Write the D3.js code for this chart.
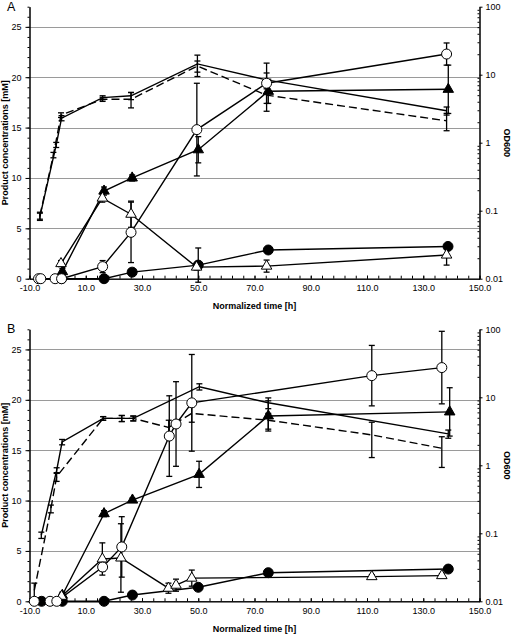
<!DOCTYPE html>
<html><head><meta charset="utf-8">
<script src="https://cdn.jsdelivr.net/npm/d3@7"></script>
<style>
body{margin:0;background:#fff}
svg{display:block}
text{font-family:"Liberation Sans",Arial,sans-serif;fill:#000}
</style>
</head><body>
<svg id="chart" width="511" height="634"></svg>
<script>
// ---------- Tick labels ----------
const xTickValues = [-10, 10, 30, 50, 70, 90, 110, 130, 150];
const xTickLabels = ["-10.0", "10.0", "30.0", "50.0", "70.0", "90.0", "110.0", "130.0", "150.0"];
const yLeftTickValues = [0, 5, 10, 15, 20, 25];
const yLeftTickLabels = ["0", "5", "10", "15", "20", "25"];
const yRightTickValues = [0.01, 0.1, 1, 10, 100];
const yRightTickLabels = ["0.01", "0.1", "1", "10", "100"];
const gridValues = [5, 10, 15, 20, 25];

// ---------- Panel A data ----------
// OD600 (right axis, log)
const aOdSolidTime = [-6.3, -0.5, 1.4, 16.0, 26.1, 49.7, 74.3, 138.3];
const aOdSolid     = [0.082, 0.93, 2.3, 4.6, 4.9, 14.4, 8.4, 2.95];
const aOdSolidErr  = [0.01, 0.08, 0.2, 0.3, 0.6, 5.0, 2.2, 0.4];
const aOdDashTime  = [-6.3, -1.5, 1.2, 16.0, 26.1, 49.7, 74.3, 138.3];
const aOdDash      = [0.085, 0.66, 2.55, 4.35, 4.35, 13.4, 5.0, 2.1];
const aOdDashErr   = [0.01, 0.06, 0.2, 0.3, 1.1, 2.5, 2.1, 0.6];
// Products (left axis, mM)
const aOpenCircleTime = [-6.8, -6.0, -0.9, 1.4, 16.0, 26.1, 49.5, 74.3, 138.3];
const aOpenCircle     = [0, 0, 0, 0, 1.2, 4.6, 14.8, 19.4, 22.3];
const aOpenCircleErr  = [0, 0, 0, 0, 0.6, 3.0, 4.6, 2.0, 1.1];
const aFilledTriTime  = [1.7, 16.5, 26.5, 50.0, 74.9, 138.9];
const aFilledTri      = [0.7, 8.7, 10.0, 12.8, 18.6, 18.8];
const aFilledTriErr   = [0.3, 0.4, 0.3, 1.3, 1.2, 2.4];
const aOpenTriTime    = [1.2, 15.9, 26.1, 49.4, 74.3, 138.3];
const aOpenTri        = [1.5, 8.0, 6.4, 1.15, 1.25, 2.35];
const aOpenTriErr     = [0.3, 0.4, 1.3, 0.3, 0.6, 1.0];
const aFilledCircleTime = [1.4, 16.5, 26.5, 50.0, 74.9, 138.8];
const aFilledCircle     = [0, 0, 0.65, 1.35, 2.85, 3.2];
const aFilledCircleErr  = [0, 0, 0.1, 1.7, 0.2, 0.2];

// ---------- Panel B data ----------
const bOdSolidTime = [-5.8, -0.35, 1.6, 16.2, 22.8, 26.9, 50.4, 74.9, 138.9];
const bOdSolid     = [0.094, 0.84, 2.2, 4.9, 4.9, 4.9, 14.3, 8.3, 2.9];
const bOdSolidErr  = [0.01, 0.08, 0.2, 0.3, 0.5, 0.4, 1.5, 1.5, 0.4];
const bOdDashTime  = [-8.3, -2.4, -0.35, 16.2, 22.8, 26.9, 39.5, 47.7, 74.9, 111.7, 136.6];
const bOdDash      = [0.0145, 0.23, 0.68, 4.9, 4.9, 4.9, 3.6, 5.8, 4.6, 2.8, 1.78];
const bOdDashErr   = [0.004, 0.03, 0.1, 0.3, 0.5, 0.4, 1.0, 1.5, 1.2, 1.5, 0.85];
const bOpenCircleTime = [-8.3, -2.7, -0.3, 16.0, 22.8, 39.7, 42.1, 47.7, 111.7, 136.6];
const bOpenCircle     = [0, 0, 0, 3.4, 5.4, 16.4, 17.6, 19.7, 22.4, 23.2];
const bOpenCircleErr  = [0, 0, 0, 0.4, 3.0, 4.0, 4.2, 4.8, 3.0, 3.6];
const bFilledTriTime  = [1.66, 16.5, 26.6, 50.3, 74.9, 139.4];
const bFilledTri      = [0.6, 8.7, 10.05, 12.6, 18.4, 18.8];
const bFilledTriErr   = [0.3, 0.3, 0.2, 1.3, 1.5, 2.4];
const bOpenTriTime    = [1.4, 15.9, 22.5, 39.4, 42.1, 47.7, 111.7, 136.6];
const bOpenTri        = [0.5, 4.2, 4.3, 1.3, 1.6, 2.3, 2.45, 2.55];
const bOpenTriErr     = [0.2, 1.6, 3.4, 0.5, 0.6, 0.8, 0.2, 0.2];
const bFilledCircleTime = [-5.7, 1.66, 16.5, 26.6, 50.0, 74.9, 138.9];
const bFilledCircle     = [0, 0, 0, 0.62, 1.39, 2.84, 3.2];
const bFilledCircleErr  = [0, 0, 0, 0.1, 0.2, 0.2, 0.2];

function mk(t, v, e, axis, marker, dashed) {
  return { pts: t.map((d, i) => ({ t: d, v: v[i], e: e[i] })), axis, marker, dashed };
}

const panels = [
  { label: "A", top: 6.7, bottom: 278.7, series: [
    mk(aOdSolidTime, aOdSolid, aOdSolidErr, "R", null, false),
    mk(aOdDashTime, aOdDash, aOdDashErr, "R", null, true),
    mk(aFilledCircleTime, aFilledCircle, aFilledCircleErr, "L", "circleFilled", false),
    mk(aFilledTriTime, aFilledTri, aFilledTriErr, "L", "triFilled", false),
    mk(aOpenTriTime, aOpenTri, aOpenTriErr, "L", "triOpen", false),
    mk(aOpenCircleTime, aOpenCircle, aOpenCircleErr, "L", "circleOpen", false)
  ]},
  { label: "B", top: 329.3, bottom: 601.3, series: [
    mk(bOdSolidTime, bOdSolid, bOdSolidErr, "R", null, false),
    mk(bOdDashTime, bOdDash, bOdDashErr, "R", null, true),
    mk(bFilledCircleTime, bFilledCircle, bFilledCircleErr, "L", "circleFilled", false),
    mk(bFilledTriTime, bFilledTri, bFilledTriErr, "L", "triFilled", false),
    mk(bOpenTriTime, bOpenTri, bOpenTriErr, "L", "triOpen", false),
    mk(bOpenCircleTime, bOpenCircle, bOpenCircleErr, "L", "circleOpen", false)
  ]}
];

const svg = d3.select("#chart");
const L = 29.5, R = 479.5;
const FS = 9;

function styleAxis(g) {
  g.attr("font-family", null).attr("font-size", null);
  g.select(".domain").attr("stroke", "#000").attr("stroke-width", 1);
  g.selectAll(".tick line").attr("stroke", "#000").attr("stroke-width", 1);
  g.selectAll(".tick text").attr("font-size", FS).style("font-family", '"Liberation Sans",Arial,sans-serif');
}

panels.forEach(p => {
  const x = d3.scaleLinear().domain([-10, 150]).range([L, R]);
  const yl = d3.scaleLinear().domain([0, 27]).range([p.bottom, p.top]);
  const yr = d3.scaleLog().domain([0.01, 100]).range([p.bottom, p.top]);
  const g = svg.append("g");

  // gridlines
  g.append("g").selectAll("line").data(gridValues).join("line")
    .attr("x1", L).attr("x2", R)
    .attr("y1", d => Math.round(yl(d)) + 0.5).attr("y2", d => Math.round(yl(d)) + 0.5)
    .attr("stroke", "#9a9a9a").attr("stroke-width", 1);

  // left axis minor ticks
  g.append("g").attr("transform", `translate(${L},0)`)
    .call(d3.axisLeft(yl).tickValues(d3.range(0, 28, 1)).tickSize(2).tickSizeOuter(0).tickFormat(""))
    .call(styleAxis);
  // left axis major
  g.append("g").attr("transform", `translate(${L},0)`)
    .call(d3.axisLeft(yl).tickValues(yLeftTickValues).tickSize(4).tickSizeOuter(0).tickPadding(4)
      .tickFormat((d, i) => yLeftTickLabels[i]))
    .call(styleAxis);

  // right axis minor (log)
  const minorR = [];
  for (let k = -2; k < 2; k++) for (let m = 2; m <= 9; m++) minorR.push(m * Math.pow(10, k));
  g.append("g").attr("transform", `translate(${R},0)`)
    .call(d3.axisRight(yr).tickValues(minorR).tickSize(-2).tickSizeOuter(0).tickFormat(""))
    .call(styleAxis);
  g.append("g").attr("transform", `translate(${R},0)`)
    .call(d3.axisRight(yr).tickValues(yRightTickValues).tickSize(3).tickSizeOuter(0).tickPadding(3)
      .tickFormat((d, i) => yRightTickLabels[i]))
    .call(styleAxis);

  // x axis minor
  g.append("g").attr("transform", `translate(0,${p.bottom})`)
    .call(d3.axisBottom(x).tickValues(d3.range(-10, 151, 4)).tickSize(-3).tickSizeOuter(0).tickFormat(""))
    .call(styleAxis);
  g.append("g").attr("transform", `translate(0,${p.bottom})`)
    .call(d3.axisBottom(x).tickValues(xTickValues).tickSize(-3).tickSizeOuter(0).tickPadding(6)
      .tickFormat((d, i) => xTickLabels[i]))
    .call(styleAxis);

  // titles
  g.append("text").attr("x", 7).attr("y", p.top - 2 + 6).attr("font-size", 12.5).text(p.label);
  g.append("text")
    .attr("transform", `translate(7.5,${(p.top + p.bottom) / 2}) rotate(-90)`)
    .attr("text-anchor", "middle").attr("font-size", FS).attr("font-weight", "bold")
    .text("Product concentrations [mM]");
  g.append("text")
    .attr("transform", `translate(503.5,${(p.top + p.bottom) / 2}) rotate(90)`)
    .attr("text-anchor", "middle").attr("font-size", FS).attr("font-weight", "bold")
    .text("OD600");
  g.append("text").attr("x", (L + R) / 2).attr("y", p.bottom + 30.5)
    .attr("text-anchor", "middle").attr("font-size", FS).attr("font-weight", "bold")
    .text("Normalized time [h]");

  const yOf = s => (s.axis === "R" ? yr : yl);

  // lines
  p.series.forEach(s => {
    const y = yOf(s);
    g.append("path").datum(s.pts)
      .attr("d", d3.line().x(d => x(d.t)).y(d => y(d.v)))
      .attr("fill", "none").attr("stroke", "#000").attr("stroke-width", 1.4)
      .attr("stroke-dasharray", s.dashed ? "8,4" : null);
  });

  // error bars
  p.series.forEach(s => {
    const y = yOf(s);
    const eb = g.append("g").attr("stroke", "#000").attr("stroke-width", 1.3);
    s.pts.filter(d => d.e > 0).forEach(d => {
      const lo = s.axis === "R" ? Math.max(d.v - d.e, 0.001) : d.v - d.e;
      const y1 = y(d.v + d.e), y2 = y(lo), cx = x(d.t);
      eb.append("line").attr("x1", cx).attr("x2", cx).attr("y1", y1).attr("y2", y2);
      eb.append("line").attr("x1", cx - 3).attr("x2", cx + 3).attr("y1", y1).attr("y2", y1);
      eb.append("line").attr("x1", cx - 3).attr("x2", cx + 3).attr("y1", y2).attr("y2", y2);
    });
  });

  // markers
  const tri = d3.symbol().type(d3.symbolTriangle).size(48);
  p.series.filter(s => s.marker).forEach(s => {
    const y = yOf(s);
    const mg = g.append("g");
    if (s.marker.startsWith("circle")) {
      mg.selectAll("circle").data(s.pts).join("circle")
        .attr("cx", d => x(d.t)).attr("cy", d => y(d.v)).attr("r", 5)
        .attr("fill", s.marker === "circleOpen" ? "#fff" : "#000")
        .attr("stroke", "#000").attr("stroke-width", 1);
    } else {
      mg.selectAll("path").data(s.pts).join("path")
        .attr("transform", d => `translate(${x(d.t)},${y(d.v)})`)
        .attr("d", tri)
        .attr("fill", s.marker === "triOpen" ? "#fff" : "#000")
        .attr("stroke", "#000").attr("stroke-width", 1);
    }
  });
});
</script>
</body></html>
